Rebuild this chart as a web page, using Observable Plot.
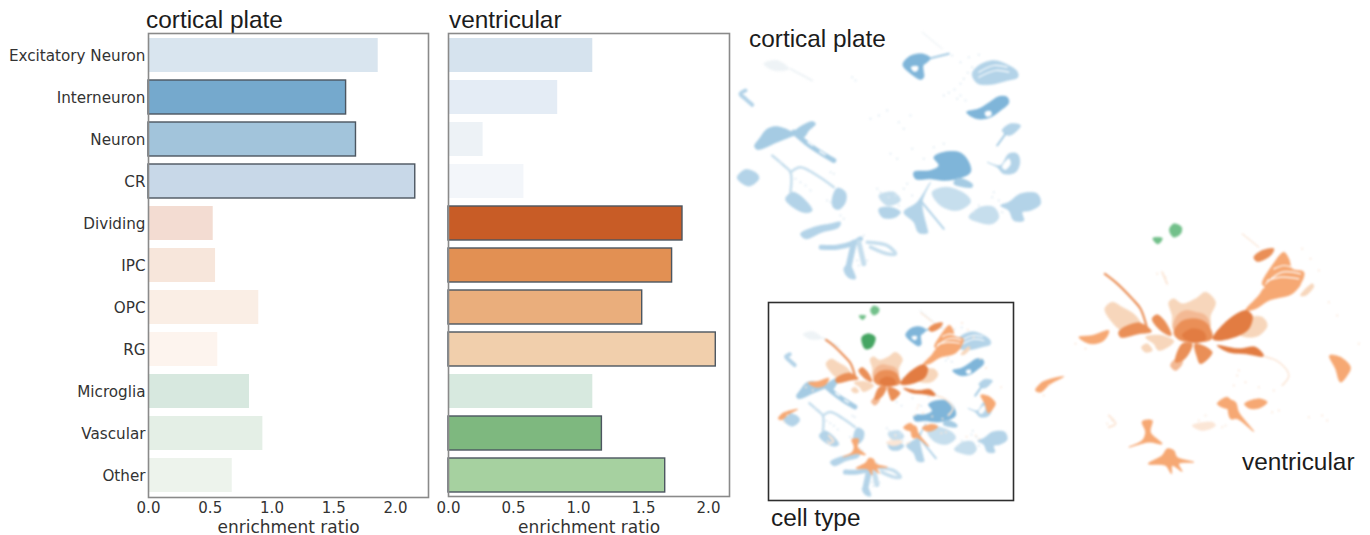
<!DOCTYPE html>
<html><head><meta charset="utf-8">
<script src="https://cdn.jsdelivr.net/npm/d3@7"></script>
<script src="https://cdn.jsdelivr.net/npm/@observablehq/plot@0.6"></script>
<style>
html,body{margin:0;padding:0;background:#fff;width:1370px;height:535px;overflow:hidden}
svg{position:absolute;overflow:visible;background:transparent!important;max-width:none!important}
.t{position:absolute;font:24.4px/24px "Liberation Sans",Arial,sans-serif;color:#1c1c1c;white-space:nowrap}
.soft{filter:blur(.8px)}
</style></head><body>
<div class="t" style="left:146px;top:8px">cortical plate</div>
<div class="t" style="left:449px;top:8px">ventricular</div>
<div class="t" style="left:749px;top:27px">cortical plate</div>
<div class="t" style="left:771px;top:506px">cell type</div>
<div class="t" style="left:1242px;top:450px">ventricular</div>
<script>
const categories=["Excitatory Neuron","Interneuron","Neuron","CR","Dividing","IPC","OPC","RG","Microglia","Vascular","Other"];
const corticalValues=[1.86,1.60,1.68,2.16,0.524,0.543,0.893,0.561,0.818,0.926,0.678];
const ventricularValues=[1.11,0.84,0.266,0.58,1.80,1.72,1.49,2.056,1.11,1.18,1.667];
const corticalFills=["#d9e5ef","#75a9cd","#a2c4db","#c8d8e8","#f3dcd2","#f7e6db","#faeee5","#fdf4ee","#d7e8df","#e4efe6","#edf3ec"];
const ventricularFills=["#d6e3ee","#e4ecf5","#edf2f6","#f3f6fa","#c85c26","#e29053","#eaae7c","#f1cfac","#d7e9df","#7eb87f","#a6d1a0"];
const corticalOutlined=["Interneuron","Neuron","CR"];
const ventricularOutlined=["Dividing","IPC","OPC","RG","Vascular","Other"];
const xTicks=[0,0.5,1,1.5,2];
const xLabel="enrichment ratio";

const tones=["dark","mid","light","pale","haze","faint","hole","oDark","oWarm","oMid","oPeach","oPale","oFaint","leaf","leafDark"];
const toneColors=["#7fb5d9","#a5cbe3","#b3d3e8","#c6deed","#dce9f2","#eef3f6","#ffffff","#e27c42","#ea8f57","#f6a873","#f3b994","#f7d6bb","#fbe6d6","#72c08a","#45a562"];

const corticalShapes=[
 {tone:"faint",pts:[[100,145],[140,135],[175,160],[130,165]]},
 {tone:"dark",pts:[[517,148],[538,122],[575,115],[600,128],[590,140],[578,150],[580,185],[570,192],[545,178]]},
 {tone:"hole",pts:[[542,155],[562,153],[560,166],[549,167]]},
 {tone:"light",pts:[[725,175],[745,150],[790,135],[835,150],[860,168],[862,185],[830,195],[780,207],[740,203]]},
 {tone:"dark",pts:[[708,290],[745,280],[775,262],[805,243],[830,245],[835,262],[810,285],[780,305],[740,310]]},
 {tone:"hole",pts:[[764,290],[780,287],[782,299],[767,302]]},
 {tone:"light",pts:[[815,345],[840,325],[870,330],[860,345],[835,360]]},
 {tone:"light",pts:[[770,440],[810,450],[835,415],[860,415],[868,440],[855,470],[820,475],[800,455]]},
 {tone:"hole",pts:[[815,455],[835,430],[840,445],[825,462]]},
 {tone:"dark",pts:[[550,470],[600,465],[625,450],[610,425],[640,410],[690,412],[715,440],[720,470],[680,490],[640,495],[600,490],[555,490]]},
 {tone:"mid",pts:[[680,488],[725,505],[725,515],[670,505]]},
 {tone:"pale",pts:[[605,530],[650,515],[710,540],[720,560],[680,585],[630,570]]},
 {tone:"light",pts:[[600,500],[575,560],[590,640],[592,652],[565,652],[550,620],[520,590],[560,560]]},
 {tone:"light",pts:[[445,580],[480,575],[510,590],[490,607],[455,605]]},
 {tone:"pale",pts:[[445,540],[490,530],[510,555],[470,570]]},
 {tone:"light",pts:[[810,570],[835,560],[870,535],[920,535],[930,565],[900,585],[875,590],[880,615],[850,615],[835,585]]},
 {tone:"pale",pts:[[715,605],[750,575],[790,575],[805,605],[785,625],[745,620]]},
 {tone:"mid",pts:[[72,392],[90,365],[108,342],[135,333],[165,340],[185,348],[215,330],[245,318],[255,325],[235,345],[220,365],[195,360],[170,368],[135,382],[100,398],[80,402]]},
 {tone:"light",pts:[[20,487],[45,462],[80,475],[85,490],[55,512]]},
 {tone:"light",pts:[[165,550],[185,530],[215,545],[245,585],[225,592],[180,570]]},
 {tone:"light",pts:[[305,550],[320,518],[345,530],[345,560],[325,582],[308,575]]},
 {tone:"light",pts:[[210,655],[250,635],[300,625],[330,620],[325,635],[275,650],[225,670]]},
 {tone:"light",pts:[[340,760],[355,745],[370,770],[375,790],[352,785]]}
];
const corticalStrokes=[
 {tone:"mid",w:2,pts:[[600,128],[655,115]]},
 {tone:"mid",w:2,pts:[[825,355],[800,390]]},
 {tone:"light",w:2,pts:[[570,555],[640,640]]},
 {tone:"mid",w:5,pts:[[190,350],[225,380],[260,405],[310,435]]},
 {tone:"hole",w:1.5,pts:[[232,380],[246,390]]},
 {tone:"hole",w:1.5,pts:[[268,408],[284,418]]},
 {tone:"hole",w:1.2,pts:[[745,170],[790,150],[830,155]]},
 {tone:"hole",w:1.2,pts:[[745,185],[795,165],[835,170]]},
 {tone:"pale",w:2.5,pts:[[125,420],[160,450],[180,470],[180,530]]},
 {tone:"pale",w:2.5,pts:[[180,470],[210,455],[260,480],[310,515]]},
 {tone:"light",w:5,pts:[[272,695],[320,695],[370,682],[390,670]]},
 {tone:"light",w:6,pts:[[370,682],[355,750]]},
 {tone:"pale",w:5,pts:[[385,680],[400,745]]},
 {tone:"pale",w:3.5,pts:[[410,680],[470,690],[495,715],[470,715],[420,695]]},
 {tone:"light",w:4,pts:[[45,225],[30,235],[45,250],[65,268]]},
 {tone:"faint",w:2,pts:[[180,160],[245,195]]},
 {tone:"faint",w:1.2,pts:[[575,50],[635,100]]}
];
const corticalSpecks=[[640,240],[655,232],[672,222],[690,205],[700,190],[712,172],[725,155],[690,240],[705,255],[680,250],[665,120],[690,140],[715,125],[745,118],
 [375,195],[365,185],[420,310],[445,300],[470,285],[520,340],[505,320],[540,300],[480,415],[500,430],[545,400],[580,430],[640,385],[610,395],
 [440,520],[450,530],[475,545],[495,540],[520,520],[530,505],[545,540],[505,570],[790,530],[785,545],[745,570],[730,590],[815,590],[805,555],
 [300,470],[310,475],[290,555],[300,560],[330,600],[340,610],[195,490],[210,500],[225,510],[240,525],[150,440],[380,735],[385,750],[410,735],[400,660]];
const ventricularShapes=[
 {tone:"leaf",pts:[[432,40],[445,25],[468,35],[465,55],[445,65],[435,55]]},
 {tone:"leaf",pts:[[382,68],[410,68],[405,80],[395,85]]},
 {tone:"oMid",pts:[[710,205],[740,150],[775,110],[790,130],[800,160],[835,170],[825,205],[780,240],[720,215]]},
 {tone:"oMid",pts:[[660,285],[700,240],[720,215],[790,215],[825,205],[800,235],[730,255],[690,280]]},
 {tone:"oWarm",pts:[[685,125],[710,105],[745,100],[735,120],[695,138]]},
 {tone:"oPale",pts:[[825,240],[860,205],[865,212],[840,240]]},
 {tone:"oPale",pts:[[660,310],[710,305],[725,330],[700,360],[665,365],[640,355]]},
 {tone:"oDark",pts:[[562,370],[600,320],[660,285],[680,300],[670,340],[640,360],[580,375]]},
 {tone:"oDark",pts:[[575,390],[640,400],[690,395],[715,422],[660,415],[610,410]]},
 {tone:"oPale",pts:[[430,260],[445,250],[470,265],[510,250],[540,230],[570,260],[555,300],[550,340],[445,340],[440,300]]},
 {tone:"oPeach",pts:[[445,345],[455,300],[480,285],[510,290],[540,300],[552,340]]},
 {tone:"oWarm",pts:[[445,352],[468,318],[510,310],[545,325],[560,368],[510,380],[460,372]]},
 {tone:"oDark",pts:[[470,360],[500,340],[535,350],[540,372],[500,380]]},
 {tone:"oPale",pts:[[238,280],[260,260],[290,275],[330,300],[350,340],[290,345],[260,320]]},
 {tone:"oWarm",pts:[[280,348],[340,322],[378,348],[340,355],[285,365]]},
 {tone:"oWarm",pts:[[380,310],[395,298],[420,320],[437,360],[405,345]]},
 {tone:"oPale",pts:[[360,365],[410,360],[445,378],[400,405],[385,385]]},
 {tone:"oPale",pts:[[348,395],[365,385],[380,405],[360,410]]},
 {tone:"oPeach",pts:[[450,430],[470,420],[470,445],[450,465],[435,450]]},
 {tone:"oWarm",pts:[[470,385],[500,385],[478,430],[450,440]]},
 {tone:"oWarm",pts:[[508,385],[560,410],[525,445],[515,425]]},
 {tone:"oMid",pts:[[160,365],[200,360],[250,345],[235,375],[195,385]]},
 {tone:"oMid",pts:[[30,525],[50,500],[115,483],[75,505],[45,530]]},
 {tone:"oMid",pts:[[912,420],[945,425],[975,455],[965,480],[945,500],[930,460]]},
 {tone:"oMid",pts:[[575,565],[605,545],[625,570],[610,580]]},
 {tone:"oMid",pts:[[610,555],[630,560],[640,590],[685,648],[635,610],[615,610]]},
 {tone:"oMid",pts:[[657,565],[700,550],[725,560],[700,578],[670,578]]},
 {tone:"oFaint",pts:[[500,630],[560,620],[570,630],[530,645]]},
 {tone:"oMid",pts:[[350,618],[380,615],[375,650],[410,685],[370,680],[310,695],[350,675],[360,650]]},
 {tone:"oMid",pts:[[410,720],[425,700],[445,705],[455,725],[505,740],[460,745],[470,768],[440,750],[438,775],[420,750],[368,745]]}
];
const ventricularStrokes=[
 {tone:"oWarm",w:2.2,pts:[[238,175],[270,200],[320,250],[345,280],[365,340]]},
 {tone:"hole",w:1.2,pts:[[720,205],[770,170],[825,175]]},
 {tone:"hole",w:1.2,pts:[[725,195],[770,185],[820,190]]},
 {tone:"hole",w:1.2,pts:[[745,160],[775,150],[800,155]]},
 {tone:"oFaint",w:1.6,pts:[[715,422],[760,440],[790,480],[770,510]]},
 {tone:"oFaint",w:2,pts:[[250,600],[270,625],[250,635]]},
 {tone:"oFaint",w:2,pts:[[410,170],[425,205]]},
 {tone:"oFaint",w:1.2,pts:[[650,55],[700,95]]}
];
const ventricularSpecks=[[640,465],[635,480],[625,510],[660,500],[700,515],[745,525],[775,505],[540,600],[520,615],[590,635],[600,630],[740,590],[760,585],[850,605],[890,600],[905,615],
 [830,100],[855,130],[880,165],[910,260],[935,300],[1000,385],[180,400],[150,385],[55,540],[70,510],[260,615],[245,625],[395,175],[420,185]];
const insetOnlyShapes=[
 {tone:"leafDark",pts:[[305,125],[325,115],[345,125],[335,155],[315,160]]}
];

const flat=list=>list.flatMap((s,i)=>s.pts.map(([u,v])=>({id:i,tone:s.tone,w:s.w,u,v})));
const dotsOf=(pts,tone)=>pts.map(([u,v])=>({u,v,tone}));
const colorScale={domain:tones,range:toneColors};

function barPanel(values,fills,outlined,left,width,xMax,showY){
  const rows=categories.map((c,i)=>({c,v:values[i]}));
  const svg=Plot.plot({
    width,height:535,marginTop:33,marginBottom:showY?38:39,marginLeft:148,marginRight:width-148-(showY?280:281),
    style:{background:"transparent"},
    x:{domain:[0,xMax],label:null},
    y:{domain:categories,paddingInner:0.2,paddingOuter:0.1,label:null,axis:null},
    color:{domain:categories,range:fills},
    marks:[
      Plot.barX(rows,{x:"v",y:"c",fill:"c"}),
      Plot.barX(rows.filter(d=>outlined.includes(d.c)),{x:"v",y:"c",fill:"c",stroke:"#4c5660",strokeWidth:1.4}),
      Plot.frame({stroke:"#8a8a8a",strokeWidth:1.6}),
      showY?Plot.axisY({tickSize:0,tickPadding:3,fontSize:15.2,label:null,color:"#333",dy:1}):null,
      Plot.axisX({ticks:xTicks,tickFormat:d3.format(".1f"),tickSize:0,tickPadding:showY?5:6,fontSize:15,label:null,color:"#333"}),
      Plot.text([xLabel],{frameAnchor:"bottom",lineAnchor:"middle",dy:showY?30:31,fontSize:17,fill:"#333",fontFamily:"DejaVu Sans"})
    ]
  });
  svg.style.left=left+"px";svg.style.top="0px";
  svg.style.fontFamily='"DejaVu Sans",sans-serif';
  document.body.appendChild(svg);
}
barPanel(corticalValues,corticalFills,corticalOutlined,0,440,280/123.5,true);
barPanel(ventricularValues,ventricularFills,ventricularOutlined,300,440,281/130,false);

function shapeMarks(shapes,strokes,dots,xf,yf){
  const x=d=>xf(d.u),y=d=>yf(d.v);
  const wgroups=d3.groups(strokes,s=>s.w);
  return [
    Plot.line(flat(shapes),{x,y,z:"id",fill:"tone",stroke:"tone",strokeWidth:0.6,curve:"catmull-rom-closed"}),
    ...wgroups.map(([w,g])=>Plot.line(flat(g),{x,y,z:"id",stroke:"tone",strokeWidth:w,curve:"catmull-rom"})),
    ...dots.map(d=>Plot.dot(d,{x,y,r:1,fill:"tone"}))
  ];
}
function umap(left,top,width,height,xd,yd,marks,soft){
  const svg=Plot.plot({width,height,margin:0,x:{domain:xd,axis:null},y:{domain:yd,axis:null},color:colorScale,
    style:{background:"transparent"},marks});
  svg.style.left=left+"px";svg.style.top=top+"px";
  if(soft)svg.classList.add("soft");
  document.body.appendChild(svg);
}
const same=a=>a;
const cDots=[dotsOf(corticalSpecks,"haze")];
const vDots=[dotsOf(ventricularSpecks,"oFaint")];
umap(730,15,320,280,[0,960],[840,0],shapeMarks(corticalShapes,corticalStrokes,cDots,same,same),true);
umap(1025,215,345,270,[0,1035],[810,0],shapeMarks(ventricularShapes,ventricularStrokes,vDots,same,same),true);

// the cell type panel shows both layouts together, in its own smaller frame
const cx=u=>85+(u-40)*0.737, cy=v=>120+(v-150)*0.752;
const vx=u=>330+(u-430)*0.689, vy=v=>515+(v-740)*0.676;
umap(765,300,249,202,[16,763],[621,15],[
  ...shapeMarks(corticalShapes,corticalStrokes,cDots,cx,cy),
  ...shapeMarks(ventricularShapes,ventricularStrokes,vDots,vx,vy),
  ...shapeMarks(insetOnlyShapes,[],[],same,same)
],true);
const frameSvg=Plot.plot({width:249,height:202,margin:2,x:{axis:null,domain:[0,1]},y:{axis:null,domain:[0,1]},
  style:{background:"transparent"},marks:[Plot.frame({stroke:"#2e2e2e",strokeWidth:1.6})]});
frameSvg.style.left="765.5px";frameSvg.style.top="300px";
document.body.appendChild(frameSvg);
</script>
</body></html>
